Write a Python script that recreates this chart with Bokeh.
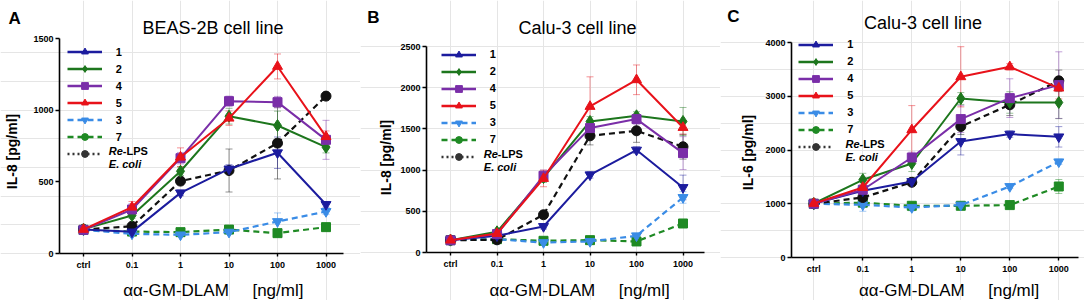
import math
from bokeh.plotting import figure
from bokeh.models import (Range1d, Legend, LegendItem, Label, ColumnDataSource,
                          Whisker, TeeHead, FixedTicker, LinearAxis)
from bokeh.layouts import row
from bokeh.embed import file_html
from bokeh.resources import INLINE

# ---------------- data ----------------
doses = ["ctrl", "0.1", "1", "10", "100", "1000"]
series = ["1", "2", "4", "5", "3", "7", "Re-LPS"]

# Panel A: BEAS-2B, IL-8
A_s1 = [168, 151, 423, 590, 703, 342]
A_s2 = [170, 265, 574, 958, 893, 742]
A_s4 = [165, 307, 665, 1063, 1056, 793]
A_s5 = [168, 323, 672, 944, 1305, 815]
A_s3 = [165, 137, 130, 149, 223, 293]
A_s7 = [165, 153, 149, 167, 142, 184]
A_lps = [168, 190, 505, 579, 770, 1098]
A_e1 = [10, 15, 20, 30, 110, 20]
A_e2 = [10, 20, 30, 55, 100, 40]
A_e4 = [10, 40, 40, 35, 40, 136]
A_e5 = [10, 40, 65, 50, 87, 40]
A_e3 = [5, 10, 10, 10, 60, 20]
A_e7 = [5, 10, 10, 15, 10, 15]
A_elps = [5, 15, 20, 150, 250, 20]

# Panel B: Calu-3, IL-8
B_s1 = [150, 203, 316, 943, 1243, 789]
B_s2 = [150, 251, 910, 1590, 1659, 1590]
B_s4 = [148, 223, 931, 1510, 1619, 1206]
B_s5 = [150, 230, 898, 1772, 2096, 1517]
B_s3 = [150, 160, 121, 134, 203, 668]
B_s7 = [150, 162, 142, 150, 134, 352]
B_lps = [150, 154, 458, 1416, 1477, 1283]
B_e1 = [10, 20, 30, 40, 40, 150]
B_e2 = [10, 20, 60, 60, 50, 170]
B_e4 = [10, 20, 70, 60, 60, 200]
B_e5 = [10, 20, 100, 360, 180, 80]
B_e3 = [10, 10, 10, 10, 30, 70]
B_e7 = [10, 10, 10, 10, 10, 20]
B_elps = [10, 10, 30, 110, 140, 150]

# Panel C: Calu-3, IL-6
C_s1 = [1005, 1241, 1414, 2158, 2296, 2245]
C_s2 = [1005, 1446, 1749, 2958, 2884, 2884]
C_s4 = [1000, 1260, 1860, 2575, 2965, 3207]
C_s5 = [1005, 1302, 2376, 3362, 3548, 3151]
C_s3 = [1000, 980, 930, 975, 1321, 1780]
C_s7 = [1000, 1020, 962, 962, 975, 1321]
C_lps = [1000, 1116, 1400, 2437, 2841, 3287]
C_e1 = [20, 60, 60, 250, 60, 190]
C_e2 = [20, 120, 150, 110, 200, 300]
C_e4 = [20, 60, 100, 250, 360, 620]
C_e5 = [20, 60, 450, 560, 60, 200]
C_e3 = [20, 120, 60, 40, 40, 50]
C_e7 = [20, 60, 60, 30, 30, 130]
C_elps = [20, 40, 40, 150, 200, 200]

A_ticks = [0, 500, 1000, 1500]
B_ticks = [0, 500, 1000, 1500, 2000, 2500]
C_ticks = [0, 1000, 2000, 3000, 4000]

# ---------------- styles ----------------
FONT = "Liberation Sans"
NB = "\u00a0"
colors = {"1": "#1c1c9e", "2": "#1d761d", "4": "#7a2ea8", "5": "#e8121a",
          "3": "#3a8ce6", "7": "#1f8a24", "Re-LPS": "#111111"}
dash = {"1": "solid", "2": "solid", "4": "solid", "5": "solid",
        "3": "6 4", "7": "6 4", "Re-LPS": "6 4"}
legend_dash = {"1": "solid", "2": "solid", "4": "solid", "5": "solid",
               "3": "6 4", "7": "6 4", "Re-LPS": "2 3"}
data_marker = {"1": "inverted_triangle", "2": "diamond", "4": "square", "5": "triangle",
               "3": "inverted_triangle", "7": "square", "Re-LPS": "circle"}
legend_marker = {"1": "triangle", "2": "diamond", "4": "square", "5": "triangle",
                 "3": "inverted_triangle", "7": "circle", "Re-LPS": "circle"}
marker_size = {"triangle": 10, "inverted_triangle": 10, "diamond": 12, "square": 9, "circle": 10}
draw_order = ["7", "3", "Re-LPS", "1", "2", "4", "5"]

# canvas starts at page (0, 0)
PAGE_TOP, FIG_H = 0, 300
FIG_BOTTOM = PAGE_TOP + FIG_H


def make_panel(vals, errs, ymax, yticks, ylab, title, letter, g):
    left, width = g["left"], g["width"]
    step, ctrl = g["step"], g["ctrl"]
    y0, ytop = g["y0"], g["ytop"]
    k = (y0 - ytop) / ymax
    xr = Range1d((left - ctrl) / step, (left + width - ctrl) / step)
    yr = Range1d(-(FIG_BOTTOM - y0) / k, (y0 - PAGE_TOP) / k)

    def at(X, Y):  # page pixel -> screen units of this frame
        return X - left, FIG_BOTTOM - Y

    p = figure(width=width, height=FIG_H, output_backend="svg", toolbar_location=None,
               x_range=xr, y_range=yr, x_axis_location=None, y_axis_location=None,
               min_border=0, min_border_left=0, min_border_right=0,
               min_border_top=0, min_border_bottom=0)
    p.outline_line_color = None
    p.background_fill_color = "white"
    p.border_fill_color = "white"

    x = list(range(len(doses)))
    for name in draw_order:
        y = vals[name]
        e = errs[name]
        c = colors[name]
        src = ColumnDataSource(data=dict(x=x, y=y,
                                         lo=[a - b for a, b in zip(y, e)],
                                         hi=[a + b for a, b in zip(y, e)]))
        w = Whisker(base="x", upper="hi", lower="lo", source=src,
                    line_color=c, line_alpha=0.45, line_width=1,
                    upper_head=TeeHead(size=7, line_color=c, line_alpha=0.45, line_width=1),
                    lower_head=TeeHead(size=7, line_color=c, line_alpha=0.45, line_width=1))
        p.add_layout(w)
        p.line("x", "y", source=src, line_color=c,
               line_width=2 if dash[name] == "solid" else 2.2, line_dash=dash[name])
        m = data_marker[name]
        p.scatter("x", "y", source=src, marker=m, size=marker_size[m],
                  fill_color=c, line_color=c)

    # axes drawn at fixed positions
    xax_at = (g["yaxis"] - ctrl) / step
    xend = (g["xend"] - ctrl) / step
    yax = LinearAxis(fixed_location=xax_at, bounds=(0, ymax), ticker=FixedTicker(ticks=yticks))
    lead, gap = g["xlab_pad"]
    xax = LinearAxis(fixed_location=0, bounds=(xax_at, xend), ticker=FixedTicker(ticks=x),
                     major_label_overrides={i: d for i, d in enumerate(doses)},
                     axis_label=NB * lead + "αα-GM-DLAM" + NB * gap + "[ng/ml]")
    for ax in (xax, yax):
        ax.axis_line_width = 1.6
        ax.axis_line_color = "black"
        ax.major_tick_line_width = 1.4
        ax.major_tick_in = 0
        ax.minor_tick_line_color = None
        ax.major_label_text_font = FONT
        ax.major_label_text_font_style = "bold"
        ax.major_label_text_font_size = "9px"
        ax.major_label_text_color = "black"
    xax.major_tick_out = 3
    yax.major_tick_out = 4
    yax.major_label_standoff = 2
    xax.major_label_standoff = 3
    xax.axis_label_text_font = FONT
    xax.axis_label_text_font_style = "normal"
    xax.axis_label_text_font_size = "17px"
    xax.axis_label_text_color = "black"
    xax.axis_label_standoff = g["xlab_standoff"]
    p.add_layout(xax, "below")
    p.add_layout(yax, "left")

    # legend from NaN-only renderers carrying the legend styles
    items = []
    for name in series:
        c = colors[name] if name != "Re-LPS" else "#333333"
        dummy = ColumnDataSource(data=dict(x=[float("nan")], y=[float("nan")]))
        lr = p.line("x", "y", source=dummy, line_color=c, line_width=2.5,
                    line_dash=legend_dash[name])
        sr = p.scatter("x", "y", source=dummy, marker=legend_marker[name], size=10,
                       fill_color=c, line_color=c)
        items.append(LegendItem(label=name if name != "Re-LPS" else " ", renderers=[lr, sr]))
    gx, gy = at(g["leg_x"], g["leg_y"] - 8.5)
    leg = Legend(items=items, location=(gx, gy - 119), orientation="vertical",
                 glyph_width=35, glyph_height=17, label_height=17, spacing=0,
                 padding=0, margin=0, label_standoff=14,
                 label_text_font=FONT, label_text_font_style="bold",
                 label_text_font_size="11px", label_text_color="black",
                 border_line_color=None, background_fill_alpha=0)
    p.add_layout(leg)

    def label(X, Y, text, size, style="normal", align="left", baseline="middle", angle=0):
        sx, sy = at(X, Y)
        p.add_layout(Label(x=sx, y=sy, x_units="screen", y_units="screen", text=text,
                           text_font=FONT, text_font_size=size, text_font_style=style,
                           text_align=align, text_baseline=baseline, angle=angle,
                           text_color="black"))

    lx, ly = g["lps"]
    label(lx, ly, "Re", "11px", "bold italic")
    label(lx + 14, ly, "-LPS", "11px", "bold")
    label(lx, ly + 13, "E. coli", "11px", "bold italic")

    tx, ty = g["title"]
    label(tx, ty, title, "18px", "normal", "center", "alphabetic")
    kx, ky = g["letter"]
    label(kx, ky, letter, "17px", "bold", "left", "alphabetic")
    yx, yy = g["ylab"]
    label(yx, yy, ylab, "14px", "bold", "center", "middle", math.pi / 2)
    return p


A_vals = {"1": A_s1, "2": A_s2, "4": A_s4, "5": A_s5, "3": A_s3, "7": A_s7, "Re-LPS": A_lps}
A_errs = {"1": A_e1, "2": A_e2, "4": A_e4, "5": A_e5, "3": A_e3, "7": A_e7, "Re-LPS": A_elps}
B_vals = {"1": B_s1, "2": B_s2, "4": B_s4, "5": B_s5, "3": B_s3, "7": B_s7, "Re-LPS": B_lps}
B_errs = {"1": B_e1, "2": B_e2, "4": B_e4, "5": B_e5, "3": B_e3, "7": B_e7, "Re-LPS": B_elps}
C_vals = {"1": C_s1, "2": C_s2, "4": C_s4, "5": C_s5, "3": C_s3, "7": C_s7, "Re-LPS": C_lps}
C_errs = {"1": C_e1, "2": C_e2, "4": C_e4, "5": C_e5, "3": C_e3, "7": C_e7, "Re-LPS": C_elps}

# page-pixel geometry of each panel
geoA = dict(left=0, width=360, ctrl=83, step=48.5, y0=253, ytop=38, yaxis=59, xend=343,
            leg_x=66.7, leg_y=51.7, lps=(108.3, 150.7), title=(212.5, 27), letter=(8, 18),
            xlab_pad=(5, 5), xlab_standoff=8, ylab=(11, 151))
geoB = dict(left=360, width=360, ctrl=450, step=46.5, y0=252, ytop=46, yaxis=426, xend=704,
            leg_x=440.7, leg_y=54, lps=(483.3, 153.3), title=(577, 27), letter=(366.7, 17),
            xlab_pad=(6, 5), xlab_standoff=9, ylab=(385, 157))
geoC = dict(left=720, width=364, ctrl=813.3, step=49, y0=257, ytop=42, yaxis=791, xend=1078,
            leg_x=798.3, leg_y=44.3, lps=(845, 143.3), title=(922.5, 22), letter=(726.7, 16),
            xlab_pad=(6, 5), xlab_standoff=4, ylab=(747.5, 152))

pA = make_panel(A_vals, A_errs, 1500, A_ticks, "IL-8 [pg/ml]", "BEAS-2B cell line", "A", geoA)
pB = make_panel(B_vals, B_errs, 2500, B_ticks, "IL-8 [pg/ml]", "Calu-3 cell line", "B", geoB)
pC = make_panel(C_vals, C_errs, 4000, C_ticks, "IL-6 [pg/ml]", "Calu-3 cell line", "C", geoC)

layout = row(pA, pB, pC, spacing=0)
open("out.html", "w").write(file_html(layout, INLINE))
